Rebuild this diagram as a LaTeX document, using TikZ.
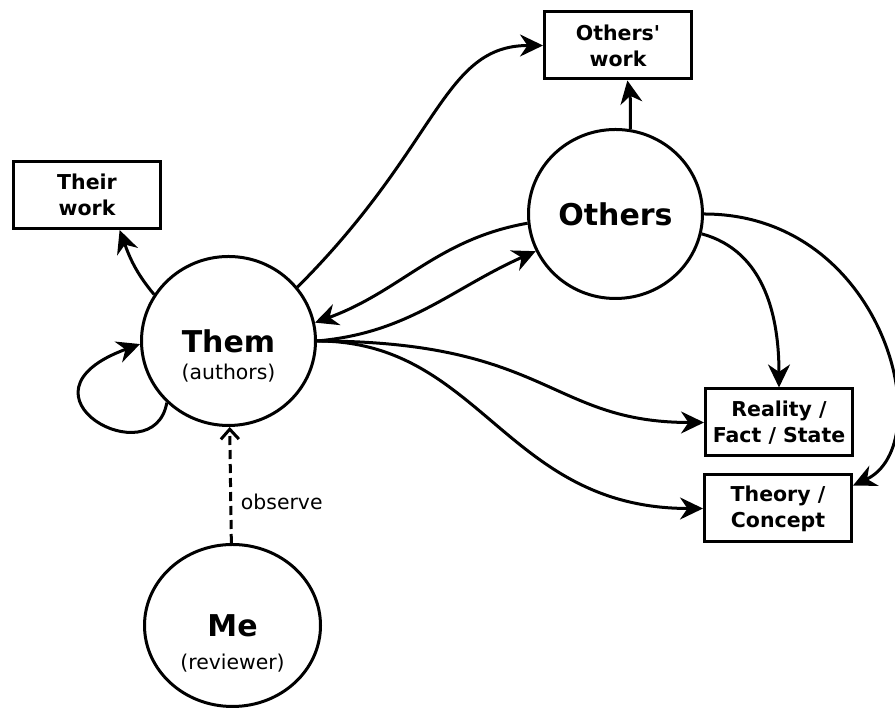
\documentclass[tikz,border=0pt]{standalone}
\usepackage{fontspec}
\setmainfont{DejaVu Sans}
\usepackage{tikz}
\usetikzlibrary{arrows.meta}
\usetikzlibrary{shapes.geometric}

\begin{document}
\begin{tikzpicture}[x=0.5pt,y=0.5pt,line width=1.5pt,
    actor/.style={draw,ellipse,inner sep=0pt,minimum width=87pt,minimum height=84.5pt,
      font=\fontsize{15}{18}\selectfont\bfseries},
    role/.style={font=\fontsize{10.2}{12}\selectfont},
    work/.style={draw,rectangle,align=center,inner sep=1pt,minimum width=73.5pt,
      minimum height=33.5pt,font=\fontsize{10.25}{13}\selectfont\bfseries},
    link/.style={-{Stealth[length=11.5pt,width=11pt]}},
    watch/.style={dash pattern=on 4.5pt off 2.5pt,-{Straight Barb[length=5pt,width=9pt]}}]
  \useasboundingbox (0,0) rectangle (895,710);
  % people
  \node[actor] (them) at (228.5,369) {Them};
  \node[role] (them-sub) at ([yshift=-16pt]them.center) {(authors)};
  \node[actor] (others) at (615.5,496) {Others};
  \node[actor,minimum width=88pt,minimum height=81pt] (me) at (232.5,84.5) {Me};
  \node[role] (me-sub) at ([yshift=-19pt]me.center) {(reviewer)};
  % things
  \node[work] (theirwork) at (87,515) {Their\\work};
  \node[work] (otherswork) at (618,664.5) {Others\textquotesingle\\work};
  \node[work] (reality) at (779,287.5) {Reality /\\Fact / State};
  \node[work] (theory) at (778,201.5) {Theory /\\Concept};
  % links
  \draw[link] (them.148) to[out=130,in=-70] (theirwork.-47);
  \draw[link] (them.38) to[out=45,in=180,out looseness=1.5,in looseness=0.75] (otherswork.west);
  \draw[link] (others.80) to[out=90,in=-80] (otherswork.-75);
  \draw[link] (others.186) to[out=190,in=20] (them.12);
  \draw[link] (them.east) to[out=5,in=204] (others.205);
  \draw[link] (them.east) to[out=0,in=180,out looseness=1.5] (reality.west);
  \draw[link] (them.east) to[out=0,in=180,in looseness=1.2] (theory.west);
  \draw[link] (others.-13) to[out=-15,in=90] (reality.north);
  \draw[link] (others.east) to[out=0,in=25,out looseness=1.5,in looseness=0.8] (theory.17);
  \draw[link] (them.225) to[out=-100,in=200,out looseness=3,in looseness=5.8] (them.182);
  \draw[watch] (me) -- node[role,right,pos=.35,xshift=1pt] (observe) {observe} (them);
\end{tikzpicture}
\end{document}
